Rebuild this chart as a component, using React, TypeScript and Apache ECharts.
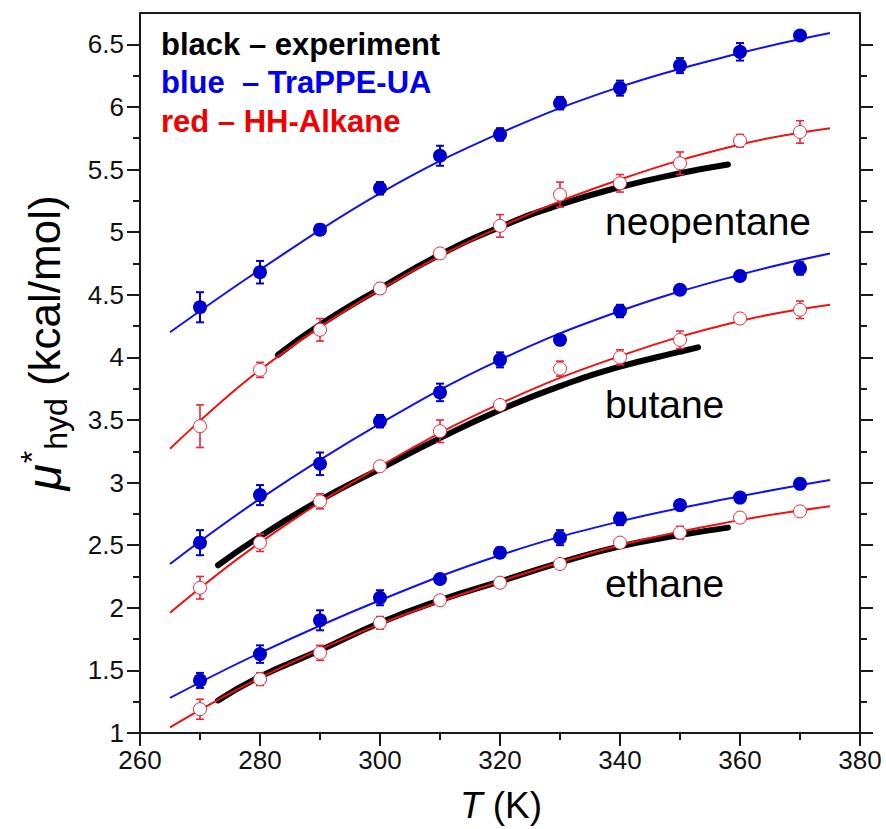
import React, { useEffect, useRef } from "react";
import * as echarts from "echarts";

// ---- data ----
const simT = [270, 280, 290, 300, 310, 320, 330, 340, 350, 360, 370];

const neoTraPPE = [4.40, 4.68, 5.02, 5.35, 5.61, 5.78, 6.03, 6.15, 6.33, 6.44, 6.57];
const neoTraPPEErr = [0.12, 0.09, 0.04, 0.05, 0.08, 0.05, 0.05, 0.06, 0.06, 0.07, 0.03];
const neoHH = [3.45, 3.90, 4.22, 4.55, 4.83, 5.05, 5.30, 5.39, 5.55, 5.73, 5.80];
const neoHHErr = [0.17, 0.06, 0.09, 0.04, 0.02, 0.09, 0.10, 0.07, 0.09, 0.05, 0.09];

const butTraPPE = [2.52, 2.90, 3.15, 3.49, 3.72, 3.98, 4.14, 4.37, 4.54, 4.65, 4.71];
const butTraPPEErr = [0.10, 0.08, 0.09, 0.05, 0.07, 0.06, 0.04, 0.05, 0.03, 0.04, 0.05];
const butHH = [2.16, 2.52, 2.85, 3.13, 3.41, 3.62, 3.91, 4.00, 4.14, 4.31, 4.38];
const butHHErr = [0.09, 0.07, 0.06, 0.02, 0.09, 0.02, 0.06, 0.06, 0.07, 0.03, 0.07];

const ethTraPPE = [1.42, 1.63, 1.90, 2.08, 2.23, 2.44, 2.56, 2.71, 2.82, 2.88, 2.99];
const ethTraPPEErr = [0.06, 0.07, 0.08, 0.06, 0.04, 0.04, 0.06, 0.05, 0.04, 0.03, 0.04];
const ethHH = [1.19, 1.43, 1.64, 1.88, 2.06, 2.20, 2.35, 2.52, 2.60, 2.72, 2.77];
const ethHHErr = [0.08, 0.05, 0.06, 0.05, 0.03, 0.02, 0.02, 0.02, 0.05, 0.02, 0.02];

// fitted curves
const fitT = [265, 280, 300, 320, 340, 360, 375];
const neoTraPPEFit = [4.20, 4.70, 5.31, 5.79, 6.16, 6.43, 6.59];
const neoHHFit = [3.27, 3.90, 4.54, 5.04, 5.42, 5.70, 5.83];
const butTraPPEFit = [2.35, 2.87, 3.47, 3.98, 4.37, 4.66, 4.83];
const butHHFit = [1.96, 2.52, 3.13, 3.63, 4.01, 4.29, 4.42];
const ethTraPPEFit = [1.28, 1.64, 2.06, 2.42, 2.69, 2.89, 3.02];
const ethHHFit = [1.045, 1.44, 1.87, 2.21, 2.50, 2.70, 2.81];

// experiment curves
const expNeoT = [283, 290, 300, 310, 320, 330, 340, 350, 358];
const expNeo = [4.02, 4.26, 4.55, 4.82, 5.04, 5.22, 5.36, 5.47, 5.54];
const expButT = [273, 280, 290, 300, 310, 320, 330, 340, 350, 353];
const expBut = [2.34, 2.57, 2.86, 3.11, 3.355, 3.58, 3.77, 3.925, 4.045, 4.08];
const expEthT = [273, 280, 290, 300, 310, 320, 330, 340, 350, 358];
const expEth = [1.26, 1.45, 1.66, 1.88, 2.06, 2.21, 2.36, 2.49, 2.58, 2.64];

// axes
const xMin = 260;
const xMax = 380;
const xInterval = 20;
const yMin = 1;
const yMax = 6.75;
const yMajorTicks = [1, 1.5, 2, 2.5, 3, 3.5, 4, 4.5, 5, 5.5, 6, 6.5];
const yMinorTicks = [1.25, 1.75, 2.25, 2.75, 3.25, 3.75, 4.25, 4.75, 5.25, 5.75, 6.25];

const molLabels = ["neopentane", "butane", "ethane"];
const legendLines = ["black – experiment", "blue  – TraPPE-UA", "red – HH-Alkane"];

const FONT = "'Liberation Sans', Arial, Helvetica, sans-serif";
const BLUE_LINE = "#1010F0";
const BLUE_MARK = "#0000CC";
const RED_LINE = "#F01010";
const RED_MARK = "#E8283C";
const AXIS = "#1a1a1a";

const pairs = (xs: number[], ys: number[]) => xs.map((x, i) => [x, ys[i]]);
const triples = (xs: number[], ys: number[], es: number[]) => xs.map((x, i) => [x, ys[i], es[i]]);

function errSeries(data: number[][], color: string, width: number) {
  return {
    type: "custom",
    coordinateSystem: "cartesian2d",
    xAxisIndex: 0,
    yAxisIndex: 0,
    z: 4,
    silent: true,
    encode: { x: 0, y: 1 },
    data,
    renderItem: (_p: any, api: any) => {
      const x = api.value(0);
      const y = api.value(1);
      const e = api.value(2);
      const top = api.coord([x, y + e]);
      const bot = api.coord([x, y - e]);
      const cap = 4;
      const style = { stroke: color, lineWidth: width };
      return {
        type: "group",
        children: [
          { type: "line", shape: { x1: top[0], y1: top[1], x2: bot[0], y2: bot[1] }, style },
          { type: "line", shape: { x1: top[0] - cap, y1: top[1], x2: top[0] + cap, y2: top[1] }, style },
          { type: "line", shape: { x1: bot[0] - cap, y1: bot[1], x2: bot[0] + cap, y2: bot[1] }, style },
        ],
      };
    },
  };
}

function fitLine(xs: number[], ys: number[], color: string) {
  return {
    type: "line",
    xAxisIndex: 0,
    yAxisIndex: 0,
    data: pairs(xs, ys),
    smooth: 0.4,
    showSymbol: false,
    symbol: "none",
    z: 3,
    lineStyle: { color, width: 2 },
  };
}

function expLine(xs: number[], ys: number[]) {
  return {
    type: "line",
    xAxisIndex: 0,
    yAxisIndex: 0,
    data: pairs(xs, ys),
    smooth: 0.5,
    symbol: "none",
    z: 2,
    lineStyle: { color: "#000", width: 6, cap: "round" },
  };
}

function blueDots(ys: number[]) {
  return {
    type: "scatter",
    xAxisIndex: 0,
    yAxisIndex: 0,
    data: pairs(simT, ys),
    symbol: "circle",
    symbolSize: 14,
    z: 5,
    itemStyle: { color: BLUE_MARK, borderWidth: 0, opacity: 1 },
  };
}

function redDots(ys: number[]) {
  return {
    type: "scatter",
    xAxisIndex: 0,
    yAxisIndex: 0,
    data: pairs(simT, ys),
    symbol: "circle",
    symbolSize: 13,
    z: 5,
    itemStyle: { color: "#fff", borderColor: RED_MARK, borderWidth: 1, opacity: 1 },
  };
}

export default function App() {
  const ref = useRef<HTMLDivElement>(null);

  useEffect(() => {
    if (!ref.current) return;
    const chart = echarts.init(ref.current, null, { renderer: "svg" });

    const tickLine = { color: AXIS, width: 2 };
    const axisLine = { show: true, onZero: false, lineStyle: { color: AXIS, width: 2 } };

    const option: any = {
      animation: false,
      backgroundColor: "#fff",
      grid: { left: 140, right: 26, top: 13, bottom: 96 },
      xAxis: [
        {
          type: "value",
          min: xMin,
          max: xMax,
          interval: xInterval,
          position: "bottom",
          axisLine,
          axisTick: { show: true, inside: false, length: 13, lineStyle: tickLine },
          minorTick: { show: true, splitNumber: 2, length: 7, lineStyle: tickLine },
          axisLabel: { fontSize: 26, color: "#111", margin: 14, fontFamily: FONT },
          splitLine: { show: false },
          minorSplitLine: { show: false },
        },
        {
          type: "value",
          min: xMin,
          max: xMax,
          interval: xInterval,
          position: "top",
          axisLine,
          axisTick: { show: false },
          axisLabel: { show: false },
          splitLine: { show: false },
        },
      ],
      yAxis: [
        {
          type: "value",
          min: yMin,
          max: yMax,
          position: "left",
          axisLine,
          axisTick: { show: true, inside: false, length: 13, lineStyle: tickLine, customValues: yMajorTicks },
          axisLabel: { fontSize: 26, color: "#111", margin: 16, fontFamily: FONT, customValues: yMajorTicks },
          splitLine: { show: false },
        },
        {
          type: "value",
          min: yMin,
          max: yMax,
          position: "left",
          axisLine: { show: false },
          axisTick: { show: true, inside: false, length: 7, lineStyle: tickLine, customValues: yMinorTicks },
          axisLabel: { show: false },
          splitLine: { show: false },
        },
        {
          type: "value",
          min: yMin,
          max: yMax,
          position: "right",
          axisLine,
          axisTick: { show: true, inside: false, length: 13, lineStyle: tickLine, customValues: yMajorTicks },
          axisLabel: { show: false },
          splitLine: { show: false },
        },
        {
          type: "value",
          min: yMin,
          max: yMax,
          position: "right",
          axisLine: { show: false },
          axisTick: { show: true, inside: false, length: 7, lineStyle: tickLine, customValues: yMinorTicks },
          axisLabel: { show: false },
          splitLine: { show: false },
        },
      ],
      graphic: [
        ...legendLines.map((t, i) => ({
          type: "text",
          x: 161,
          y: 44 + i * 38.5,
          silent: true,
          style: {
            text: t,
            fill: ["#000", "#0000F0", "#F00000"][i],
            font: `bold 31px ${FONT}`,
            verticalAlign: "middle",
            align: "left",
          },
        })),
        ...molLabels.map((t, i) => ({
          type: "text",
          x: 605,
          y: [221.5, 404, 583][i],
          silent: true,
          style: {
            text: t,
            fill: "#000",
            font: `39px ${FONT}`,
            verticalAlign: "middle",
            align: "left",
          },
        })),
        {
          type: "text",
          x: 501,
          y: 805,
          silent: true,
          style: {
            text: "{i|T} (K)",
            fill: "#000",
            font: `37px ${FONT}`,
            align: "center",
            verticalAlign: "middle",
            rich: {
              i: { fontStyle: "italic", fontSize: 37, fontFamily: FONT, fill: "#000" },
            },
          },
        },
        {
          type: "text",
          x: 44,
          y: 343,
          rotation: Math.PI / 2,
          silent: true,
          style: {
            text: "{mu|μ}{sup|*}{sub|hyd}{t| (kcal/mol)}",
            fill: "#000",
            font: `44px ${FONT}`,
            align: "center",
            verticalAlign: "middle",
            rich: {
              mu: { fontStyle: "italic", fontSize: 48, fontFamily: FONT, fill: "#000", verticalAlign: "middle" },
              sup: { fontSize: 32, fontFamily: FONT, fill: "#000", verticalAlign: "top", padding: [0, 1, 0, 1] },
              sub: { fontSize: 32, fontFamily: FONT, fill: "#000", verticalAlign: "bottom", padding: [24, 0, 0, 0] },
              t: { fontSize: 44, fontFamily: FONT, fill: "#000", verticalAlign: "middle" },
            },
          },
        },
      ],
      series: [
        expLine(expNeoT, expNeo),
        expLine(expButT, expBut),
        expLine(expEthT, expEth),
        fitLine(fitT, neoTraPPEFit, BLUE_LINE),
        fitLine(fitT, neoHHFit, RED_LINE),
        fitLine(fitT, butTraPPEFit, BLUE_LINE),
        fitLine(fitT, butHHFit, RED_LINE),
        fitLine(fitT, ethTraPPEFit, BLUE_LINE),
        fitLine(fitT, ethHHFit, RED_LINE),
        errSeries(triples(simT, neoTraPPE, neoTraPPEErr), BLUE_MARK, 2),
        errSeries(triples(simT, butTraPPE, butTraPPEErr), BLUE_MARK, 2),
        errSeries(triples(simT, ethTraPPE, ethTraPPEErr), BLUE_MARK, 2),
        errSeries(triples(simT, neoHH, neoHHErr), RED_MARK, 1.6),
        errSeries(triples(simT, butHH, butHHErr), RED_MARK, 1.6),
        errSeries(triples(simT, ethHH, ethHHErr), RED_MARK, 1.6),
        blueDots(neoTraPPE),
        blueDots(butTraPPE),
        blueDots(ethTraPPE),
        redDots(neoHH),
        redDots(butHH),
        redDots(ethHH),
      ],
    };

    chart.setOption(option);
    return () => chart.dispose();
  }, []);

  return (
    <div
      ref={ref}
      style={{ position: "fixed", left: 0, top: 0, width: 886, height: 829, background: "#fff" }}
    />
  );
}
